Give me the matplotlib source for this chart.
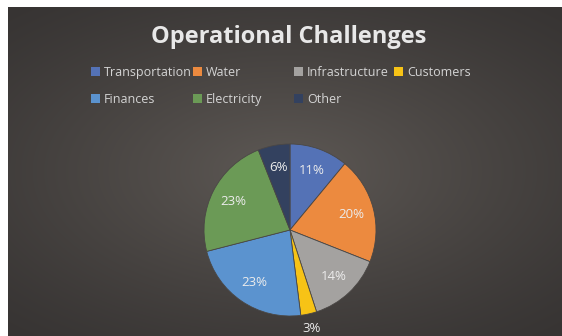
import numpy as np
import matplotlib.pyplot as plt
from matplotlib.patches import Patch

categories = ["Transportation", "Water", "Infrastructure", "Customers",
              "Finances", "Electricity", "Other"]
shares = [11, 20, 14, 3, 23, 23, 6]
colors = ["#5472b6", "#ec8a3f", "#a4a2a0", "#f7c316",
          "#5b93cf", "#6b9a56", "#33415f"]

W, H = 562, 336
fig = plt.figure(figsize=(W / 100, H / 100), dpi=100, facecolor="white")

# dark panel with a soft radial glow
bg = fig.add_axes([8 / W, 0, (W - 8) / W, (H - 7) / H])
yy, xx = np.mgrid[-1:1:200j, -1:1:300j]
r = np.sqrt(xx ** 2 + (yy / 0.9) ** 2)
glow = np.clip(1 - r / 1.5, 0, 1) ** 1.2
dark = np.array([0x37, 0x34, 0x33]) / 255
light = np.array([0x5e, 0x59, 0x55]) / 255
img = dark + (light - dark) * glow[..., None]
bg.imshow(img, aspect="auto", extent=[0, 1, 0, 1], interpolation="bilinear")
bg.set_axis_off()

fig.text(289 / W, 1 - 37 / H, "Operational Challenges", ha="center", va="center",
         fontsize=17, fontweight="bold", family="Open Sans", color="#e8e8e8")

# legend laid out in four fixed-width columns, filled row by row
col_x = [91, 193, 294, 394]
for c in range(4):
    idx = [i for i in (c, c + 4) if i < len(categories)]
    handles = [Patch(facecolor=colors[i], edgecolor="none") for i in idx]
    fig.legend(handles, [categories[i] for i in idx],
               loc="upper left", bbox_to_anchor=(col_x[c] / W, 1 - 66 / H),
               frameon=False, handlelength=0.75, handleheight=0.75,
               handletextpad=0.3, labelspacing=1.1,
               borderaxespad=0, borderpad=0, labelcolor="#d4d4d4",
               prop={"family": "Open Sans", "size": 9})

ax = fig.add_axes([(290 - 86) / W, (H - 230 - 86) / H, 172 / W, 172 / H])
wedges, texts, autotexts = ax.pie(
    shares, colors=colors, startangle=90, counterclock=False,
    autopct="%d%%", pctdistance=0.74,
    wedgeprops={"edgecolor": "#4a4745", "linewidth": 0.6},
    textprops={"color": "#ececec", "fontsize": 9.5, "family": "Open Sans"})
# the thin slice gets its label outside the pie
for w, t, v in zip(wedges, autotexts, shares):
    if v < 5:
        ang = np.deg2rad((w.theta1 + w.theta2) / 2)
        t.set_position((1.17 * np.cos(ang), 1.17 * np.sin(ang)))
ax.set_xlim(-1, 1)
ax.set_ylim(-1, 1)
ax.set_aspect("equal")

fig.savefig("out.png", dpi=100, facecolor=fig.get_facecolor())
